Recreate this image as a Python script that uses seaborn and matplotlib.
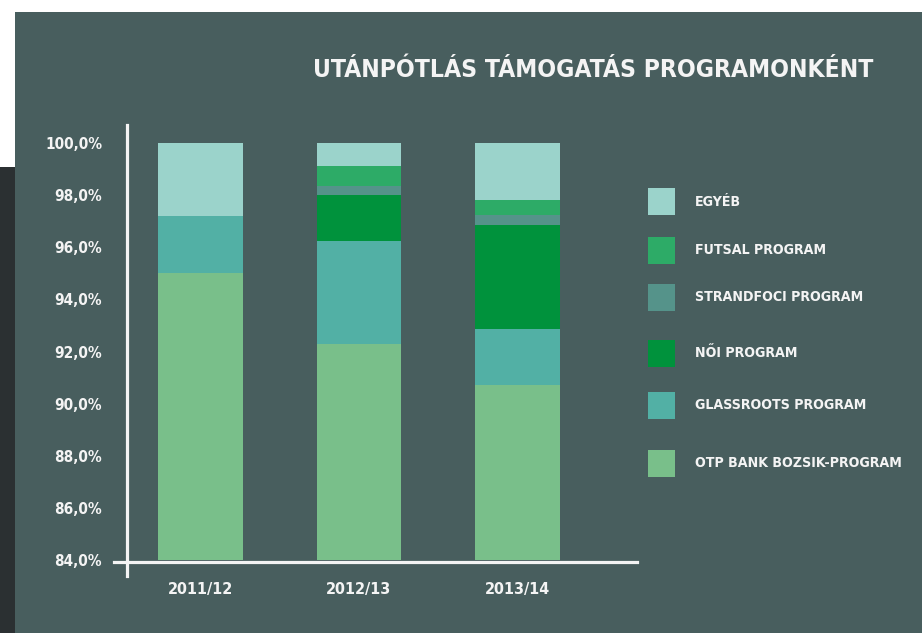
import matplotlib
matplotlib.use("Agg")
import matplotlib.pyplot as plt
from matplotlib.patches import Rectangle
from matplotlib.lines import Line2D
import seaborn as sns
import numpy as np

# ---- data ----
years = ["2011/12", "2012/13", "2013/14"]
series_names = ["OTP BANK BOZSIK-PROGRAM", "GLASSROOTS PROGRAM", "NŐI PROGRAM",
                "STRANDFOCI PROGRAM", "FUTSAL PROGRAM", "EGYÉB"]
otp = [95.0, 92.3, 90.7]
glassroots = [2.2, 3.95, 2.15]
noi = [0.0, 1.75, 4.0]
strandfoci = [0.0, 0.35, 0.39]
futsal = [0.0, 0.77, 0.57]
egyeb = [2.8, 0.88, 2.19]
y_ticks = [84, 86, 88, 90, 92, 94, 96, 98, 100]
title = "UTÁNPÓTLÁS TÁMOGATÁS PROGRAMONKÉNT"

series_values = [otp, glassroots, noi, strandfoci, futsal, egyeb]
colors = ["#79bf8a", "#52b0a5", "#00923c", "#55938a", "#2dab67", "#9bd3cb"]

BG = "#485e5e"
STRIP = "#2b3032"
TXT = "#f4f4f4"
FONT = dict(family=["Liberation Sans Narrow", "DejaVu Sans"], stretch="condensed", weight="bold")

W, H = 922, 633
fig = plt.figure(figsize=(W / 100, H / 100), dpi=100, facecolor="white")

def fx(px):
    return px / W

def fy(py):
    return 1 - py / H

# background panels
fig.patches.append(Rectangle((fx(15), 0), 1, fy(12), transform=fig.transFigure,
                             facecolor=BG, edgecolor="none", zorder=-10))
fig.patches.append(Rectangle((0, 0), fx(15), fy(167), transform=fig.transFigure,
                             facecolor=STRIP, edgecolor="none", zorder=-10))

# axes: x from 127 to 636 px, y 84 at 560px, 100 at 143px
ax = fig.add_axes([fx(127), fy(560), fx(636 - 127), (560 - 143) / H])
ax.set_facecolor("none")

bottoms = np.zeros(len(years))
for name, vals, c in zip(series_names, series_values, colors):
    sns.barplot(x=years, y=vals, bottom=bottoms, color=c, width=0.536,
                saturation=1, linewidth=0, errorbar=None, ax=ax, zorder=2)
    bottoms = bottoms + np.array(vals)

ax.set_ylim(84, 100)
ax.set_xlim(-0.464, 2.748)
for s in ax.spines.values():
    s.set_visible(False)
ax.set_yticks(y_ticks)
ax.set_yticklabels([f"{v:.1f}%".replace(".", ",") for v in y_ticks])
ax.tick_params(axis="both", length=0, colors=TXT)
ax.tick_params(axis="y", pad=18)
ax.tick_params(axis="x", pad=16)
for lab in ax.get_yticklabels():
    lab.set_fontproperties(matplotlib.font_manager.FontProperties(size=11, **FONT))
    lab.set_color(TXT)
for lab in ax.get_xticklabels():
    lab.set_fontproperties(matplotlib.font_manager.FontProperties(size=11.5, **FONT))
    lab.set_color(TXT)
ax.set_xlabel("")
ax.set_ylabel("")

# axis lines (crossing)
fig.lines.append(Line2D([fx(127), fx(127)], [fy(125), fy(576)], transform=fig.transFigure,
                        color=TXT, lw=2.3))
fig.lines.append(Line2D([fx(114), fx(637)], [fy(562), fy(562)], transform=fig.transFigure,
                        color=TXT, lw=2.3))

# title
fig.text(fx(873), fy(70), title, ha="right", va="center", color=TXT, size=17.7, **FONT)

# legend (top to bottom)
legend_y = [202, 250, 297, 353, 405, 463]
for name, c, yy in zip(series_names[::-1], colors[::-1], legend_y):
    fig.patches.append(Rectangle((fx(648), fy(yy + 13.5)), fx(27), 27 / H,
                                 transform=fig.transFigure, facecolor=c, edgecolor="none"))
    fig.text(fx(695), fy(yy), name, ha="left", va="center", color=TXT, size=10.2, **FONT)

fig.savefig("out.png", dpi=100, facecolor=fig.get_facecolor())
